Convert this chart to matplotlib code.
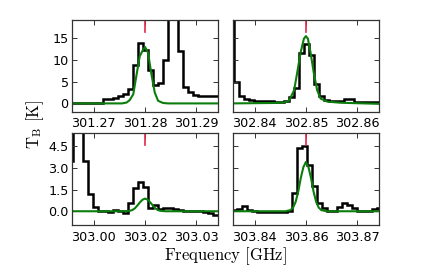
import matplotlib
matplotlib.use("Agg")
import matplotlib.pyplot as plt
import numpy as np

plt.rcParams['mathtext.fontset'] = 'cm'

### spectral setup ###
chan_width = 0.9766e-3          # GHz per channel
half_span = 0.01422             # GHz either side of line centre

line_freq = [301.2785, 302.8495, 303.0155, 303.8555]
chan_phase = [0.1, 0.1, 0.1, -0.3]   # channel centre offset (channels)
first_chan = [-15, -15, -15, -14]

tick_labels = [["301.27", "301.28", "301.29"],
               ["302.84", "302.85", "302.86"],
               ["303.00", "303.02", "303.03"],
               ["303.84", "303.86", "303.87"]]

### observed spectra (K), one value per channel ###
obs1 = [0, 0, 0, 0, 0, 0, 0.05, 1.0, 1.1, 1.2, 1.6, 2.2, 3.3, 8.9, 13.8,
        12.3, 7.6, 4.1, 4.6, 9.9, 24, 28, 12.1, 3.7, 2.6, 2.0, 1.8, 1.8, 1.8, 1.8]
obs2 = [22, 4.8, 1.6, 1.1, 0.8, 0.65, 0.55, 0.5, 0.45, 0.4, 0.4, 0.6, 1.5, 3.5, 11.6,
        13.5, 11.0, 4.5, 1.6, 0.8, 0.5, 0.45, 0.45, 1.0, 0.9, 0.4, 0.35, 0.3, 0.3, 0.3]
obs3 = [3.5, 9, 9, 3.5, 1.2, 0.3, 0.02, 0.0, -0.02, 0.07, 0.0, -0.14, 0.6, 1.6, 2.0,
        1.65, 0.25, 0.45, 0.17, 0.2, 0.2, 0.15, 0.1, 0.05, 0.0, 0.05, 0.0, -0.07, -0.15, -0.23]
obs4 = [0.1, 0.15, 0.35, 0.1, 0.0, -0.05, -0.05, -0.08, -0.07, -0.06, -0.05, 0.05, 1.3, 4.4, 4.5,
        3.2, 1.75, 0.6, 0.2, 0.02, 0.0, 0.3, 0.6, 0.4, 0.2, 0.05, 0.0, 0.0, 0.15, 0.2]

### model fits: offset from line centre (MHz) and T_B (K) ###
fit1_off = [-14.3, -4.5, -3.6, -3.0, -2.3, -1.7, -1.04, -0.39, 0, 0.58, 1.23, 1.88, 2.53, 3.5, 4.5, 14.3]
fit1_val = [0, 0, 0.2, 0.75, 2.1, 6.3, 10.8, 12.3, 12.9, 11.6, 6.7, 2.5, 0.6, 0.1, 0, 0]
fit2_off = [-14.3, -6.2, -4.3, -3.3, -2.3, -1.7, -1.04, -0.39, 0, 0.39, 0.91, 1.56, 2.2, 2.86, 4.2, 6.8, 14.3]
fit2_val = [0.0, 0.1, 0.2, 0.6, 3.0, 7.0, 11.6, 14.8, 15.4, 14.8, 11.6, 6.8, 3.0, 1.1, 0.4, 0.15, -0.1]
fit3_off = [-14.3, -4.0, -3.0, -2.5, -2.0, -1.5, -1.0, -0.5, 0, 0.5, 1.0, 1.5, 2.0, 2.5, 3.0, 4.0, 14.3]
fit3_val = [0, 0, 0.03, 0.08, 0.2, 0.4, 0.62, 0.8, 0.88, 0.8, 0.62, 0.4, 0.2, 0.08, 0.03, 0, 0]
fit4_off = fit3_off
fit4_val = [0, 0, 0.08, 0.25, 0.65, 1.35, 2.3, 3.05, 3.42, 3.05, 2.3, 1.35, 0.65, 0.25, 0.08, 0, 0]

observed = [obs1, obs2, obs3, obs4]
fit_off = [fit1_off, fit2_off, fit3_off, fit4_off]
fit_val = [fit1_val, fit2_val, fit3_val, fit4_val]

ylims = [(-1.95, 19.1), (-1.95, 19.1), (-0.95, 5.43), (-0.95, 5.43)]
yticks = [[0, 5, 10, 15], [0, 5, 10, 15], [0.0, 1.5, 3.0, 4.5], [0.0, 1.5, 3.0, 4.5]]
ytick_labels = [["0", "5", "10", "15"], None, ["0.0", "1.5", "3.0", "4.5"], None]

### axes positions (figure fraction) ###
lefts = [0.165, 0.533, 0.165, 0.533]
bottoms = [0.59, 0.59, 0.176, 0.176]
w, h = 0.334, 0.337

fig = plt.figure(figsize=(4.37, 2.73), dpi=100)

for p in range(4):
    ax = fig.add_axes([lefts[p], bottoms[p], w, h])
    f0 = line_freq[p]
    y = np.array(observed[p])
    n = len(y)
    edges = f0 + (np.arange(n + 1) + first_chan[p] - 0.5 + chan_phase[p]) * chan_width
    ax.stairs(y, edges, baseline=None, color='k', lw=1.8)

    xf = f0 + np.array(fit_off[p]) * 1e-3
    ax.plot(xf, fit_val[p], color='#0a7d0a', lw=1.5)

    ax.axvline(f0, ymin=0.87, ymax=1.0, color='#e0284a', lw=1.2)

    ax.set_xlim(f0 - half_span, f0 + half_span)
    ax.set_ylim(ylims[p])
    ax.set_xticks([f0 - 0.01, f0, f0 + 0.01])
    ax.set_xticklabels(tick_labels[p])
    ax.set_yticks(yticks[p])
    if ytick_labels[p] is None:
        ax.set_yticklabels([])
    else:
        ax.set_yticklabels(ytick_labels[p])

    ax.tick_params(direction='in', top=True, right=True, length=3.5, width=0.7,
                   labelsize=9.2, color='#333333')
    ax.tick_params(axis='x', pad=4)
    ax.tick_params(axis='y', pad=2.5)
    for s in ax.spines.values():
        s.set_color('#333333')
        s.set_linewidth(0.9)

fig.text(0.08, 0.545, r'$\mathrm{T_B\ [K]}$', rotation=90, ha='center', va='center', fontsize=12)
fig.text(0.516, 0.06, r'$\mathrm{Frequency\ [GHz]}$', ha='center', va='center', fontsize=12)

fig.savefig("out.png", dpi=100)
